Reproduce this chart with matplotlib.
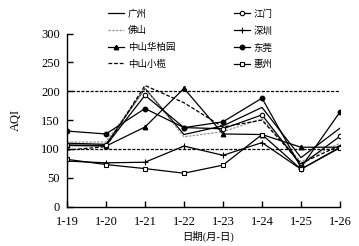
import matplotlib.pyplot as plt
from matplotlib import rcParams

rcParams['font.family'] = ['Liberation Serif', 'Noto Sans CJK SC']
rcParams['axes.unicode_minus'] = False

# Data
dates = ['1-19', '1-20', '1-21', '1-22', '1-23', '1-24', '1-25', '1-26']
guangzhou = [110, 108, 205, 125, 140, 172, 85, 136]
jiangmen = [107, 106, 193, 137, 135, 159, 72, 122]
foshan = [112, 112, 205, 121, 130, 152, 78, 110]
shenzhen = [79, 76, 77, 105, 89, 111, 65, 103]
huabaiyuan = [106, 105, 138, 205, 126, 125, 103, 103]
dongguan = [131, 126, 170, 137, 147, 188, 68, 164]
xiaolan = [98, 104, 210, 180, 138, 150, 75, 106]
huizhou = [82, 73, 66, 58, 72, 125, 65, 102]
ref_levels = [200, 100]

x = list(range(len(dates)))

fig = plt.figure(figsize=(3.59, 2.46), dpi=100)
ax = fig.add_axes([0.1866, 0.1598, 0.7604, 0.704])

lw = 0.9
ms = 3.2
h_gz, = ax.plot(x, guangzhou, color='black', lw=lw, label='广州')
h_fs, = ax.plot(x, foshan, color='#9a9a9a', lw=lw, ls=(0, (2, 1)), label='佛山')
h_hby, = ax.plot(x, huabaiyuan, color='black', lw=lw, marker='^', ms=ms, label='中山华柏园')
h_xl, = ax.plot(x, xiaolan, color='black', lw=lw, ls=(0, (3, 1.5)), label='中山小榄')
h_jm, = ax.plot(x, jiangmen, color='black', lw=lw, marker='o', ms=ms,
                mfc='white', mew=0.8, label='江门')
h_sz, = ax.plot(x, shenzhen, color='black', lw=lw, marker='+', ms=ms + 1, mew=0.8, label='深圳')
h_dg, = ax.plot(x, dongguan, color='black', lw=lw, marker='o', ms=ms, label='东莞')
h_hz, = ax.plot(x, huizhou, color='black', lw=lw, marker='s', ms=ms,
                mfc='white', mew=0.8, label='惠州')

for lvl in ref_levels:
    ax.plot([x[0], x[-1]], [lvl, lvl], color='black', lw=0.9, ls=(0, (2.5, 1.2)))

ax.set_xlim(0, 7)
ax.set_ylim(0, 300)
ax.set_xticks(x)
ax.set_xticklabels(dates)
ax.set_yticks([0, 50, 100, 150, 200, 250, 300])
ax.spines['top'].set_visible(False)
ax.spines['right'].set_visible(False)
ax.spines['left'].set_linewidth(1.0)
ax.spines['bottom'].set_linewidth(1.0)
ax.tick_params(direction='in', length=4, width=1.0, labelsize=9)
ax.tick_params(axis='x', pad=7)
ax.tick_params(axis='y', pad=5)

ax.set_ylabel('AQI', fontsize=9)
ax.yaxis.set_label_coords(-0.165, 0.5)
ax.set_xlabel('日期(月-日)', fontsize=7.5)
ax.xaxis.set_label_coords(0.515, -0.14)

handles = [h_gz, h_fs, h_hby, h_xl, h_jm, h_sz, h_dg, h_hz]
fig.legend(handles=handles, labels=[h.get_label() for h in handles], ncol=2,
           loc='upper left', bbox_to_anchor=(0.285, 0.985), frameon=False,
           fontsize=6.8, handlelength=1.7, handletextpad=0.4, columnspacing=6.2,
           labelspacing=0.8, borderaxespad=0.2)

plt.savefig('out.png', dpi=100)
